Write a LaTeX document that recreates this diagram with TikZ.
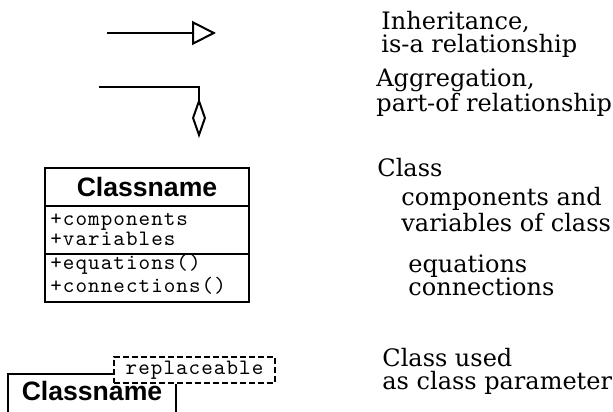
\documentclass[tikz,border=0pt]{standalone}
\usepackage{fontspec}
\setmainfont{DejaVu Serif}
\setmonofont{lmmono10-regular.otf}[LetterSpace=4.8]
\newfontfamily\clsfont{Liberation Sans}
\usepackage{tikz}
\usetikzlibrary{positioning}
\usetikzlibrary{arrows.meta}
\tikzset{
	legtext/.style={anchor=base west, align=left, inner sep=0pt, font=\fontsize{12}{11.5}\selectfont},
	clsname/.style={font=\clsfont\bfseries\fontsize{13.3}{14}\selectfont},
	clshead/.style={clsname, draw=black, line width=1.2pt, minimum width=102pt, minimum height=19pt, inner sep=0pt, outer sep=0pt},
	clspart/.style={draw=black, line width=1.2pt, minimum width=102pt, minimum height=24pt, inner sep=0pt, outer sep=0pt},
	clsitem/.style={anchor=base west, align=left, inner sep=0pt, font=\ttfamily\fontsize{11}{10}\selectfont},
	replbox/.style={draw=black, dash pattern=on 3pt off 1.5pt, line width=1.2pt, minimum width=80.5pt, minimum height=13pt, inner sep=0pt, font=\ttfamily\fontsize{11}{10}\selectfont}
}
\begin{document}
\begin{tikzpicture}[x=0.5pt, y=-0.5pt]
	\path[use as bounding box, clip] (0,0) rectangle (613,411);
	\coordinate (inhstart) at (107,33);
	\coordinate (inhend) at (216,33);
	\draw[black, line width=1.0pt, -{Triangle[open, length=12pt, width=12pt]}] (inhstart) -- (inhend);
	\coordinate (aggstart) at (99,87);
	\coordinate (aggend) at (199,138);
	\draw[black, line width=1.0pt, -{Diamond[open, length=20pt, width=7pt]}] (aggstart) -| (aggend);
	\node[legtext] (inhlabel) at (381,53) {Inheritance,\\is-a relationship};
	\node[legtext] (agglabel) at (376,112) {Aggregation,\\part-of relationship};
		\node[clshead] (clstitle) at (147,187) {Classname};
		\node[clspart, below=0pt of clstitle] (clsvars) {};
		\node[clspart, below=0pt of clsvars] (clseqs) {};
		\node[clsitem] (varstext) at (50,245) {+components\\+variables};
		\node[clsitem] (eqstext) at (50,292) {+equations()\\+connections()};
	\node[legtext] (clslabel) at (377,176) {Class};
	\node[legtext] (varslabel) at (401,231) {components and\\variables of class};
	\node[legtext] (eqslabel) at (408,295) {equations\\connections};
		\node[replbox] (replname) at (194.5,370) {replaceable};
		\node[clsname, anchor=base] (paramname) at (92,400) {Classname};
	\coordinate (paramleft) at (8,374);
	\coordinate (paramright) at (176,420);
	\draw[black, line width=1.2pt] (paramleft |- paramright) |- (replname.west |- paramleft);
	\draw[black, line width=1.2pt] (replname.south -| paramright) -- (paramright);
	\node[legtext] (paramlabel) at (382,389) {Class used\\as class parameter};
\end{tikzpicture}
\end{document}
